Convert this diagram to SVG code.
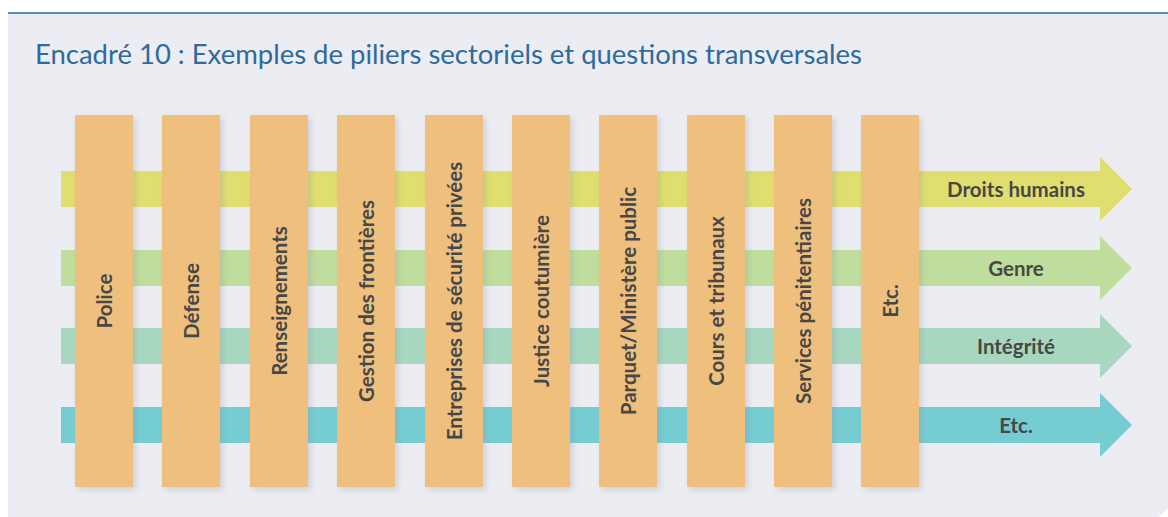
<svg xmlns="http://www.w3.org/2000/svg" width="1168" height="517" viewBox="0 0 1168 517">
  <defs>
    <filter id="shadow" x="-30%" y="-10%" width="160%" height="120%">
      <feDropShadow dx="3" dy="3" stdDeviation="3" flood-color="#8a8fa8" flood-opacity="0.3"/>
    </filter>
    <style>
      .title { font-family: Lato, "Liberation Sans", sans-serif; font-weight: 400; font-size: 26px; fill: #2e6b9c; }
      .pillar rect { fill: #efbf7d; filter: url(#shadow); }
      .pillar text, .band text { font-family: Lato, "Liberation Sans", sans-serif; font-weight: 700; font-size: 20.5px; fill: #474747; text-anchor: middle; dominant-baseline: central; }
    </style>
  </defs>

  <!-- panel -->
  <rect x="0" y="0" width="1168" height="517" fill="#ffffff"/>
  <path d="M8 13 H1168 V508 L1159 517 H8 Z" fill="#ecedf2"/>
  <line x1="8" y1="13" x2="1168" y2="13" stroke="#2e6b9c" stroke-width="1.6"/>

  <text class="title" x="35" y="64" textLength="827" lengthAdjust="spacingAndGlyphs">Encadré 10 : Exemples de piliers sectoriels et questions transversales</text>

  <!-- cross-cutting issues: horizontal arrows -->
  <g id="connectors">
    <g id="band-droits" class="band">
      <path d="M61 171 H1100 V157 L1132 189 L1100 221 V207 H61 Z" fill="#e0de6e"/>
      <text x="1016" y="189">Droits humains</text>
    </g>
    <g id="band-genre" class="band">
      <path d="M61 250 H1100 V236 L1132 268 L1100 300 V286 H61 Z" fill="#bfdd9c"/>
      <text x="1016" y="268">Genre</text>
    </g>
    <g id="band-integrite" class="band">
      <path d="M61 328 H1100 V314 L1132 346 L1100 378 V364 H61 Z" fill="#a7d8bf"/>
      <text x="1016" y="346">Intégrité</text>
    </g>
    <g id="band-etc" class="band">
      <path d="M61 407 H1100 V393 L1132 425 L1100 457 V443 H61 Z" fill="#75cdd2"/>
      <text x="1016" y="425">Etc.</text>
    </g>
  </g>

  <!-- sector pillars -->
  <g id="police" class="pillar"><rect x="75" y="115" width="58" height="372"/><text transform="translate(104 301) rotate(-90)">Police</text></g>
  <g id="defense" class="pillar"><rect x="162" y="115" width="58" height="372"/><text transform="translate(191 301) rotate(-90)">Défense</text></g>
  <g id="renseignements" class="pillar"><rect x="250" y="115" width="58" height="372"/><text transform="translate(279 301) rotate(-90)">Renseignements</text></g>
  <g id="frontieres" class="pillar"><rect x="337" y="115" width="58" height="372"/><text transform="translate(366 301) rotate(-90)">Gestion des frontières</text></g>
  <g id="entreprises" class="pillar"><rect x="425" y="115" width="58" height="372"/><text transform="translate(454 301) rotate(-90)">Entreprises de sécurité privées</text></g>
  <g id="justice" class="pillar"><rect x="512" y="115" width="58" height="372"/><text transform="translate(541 301) rotate(-90)">Justice coutumière</text></g>
  <g id="parquet" class="pillar"><rect x="599" y="115" width="58" height="372"/><text transform="translate(628 301) rotate(-90)">Parquet/Ministère public</text></g>
  <g id="cours" class="pillar"><rect x="687" y="115" width="58" height="372"/><text transform="translate(716 301) rotate(-90)">Cours et tribunaux</text></g>
  <g id="services" class="pillar"><rect x="774" y="115" width="58" height="372"/><text transform="translate(803 301) rotate(-90)">Services pénitentiaires</text></g>
  <g id="etc" class="pillar"><rect x="861" y="115" width="58" height="372"/><text transform="translate(890 301) rotate(-90)">Etc.</text></g>
</svg>
